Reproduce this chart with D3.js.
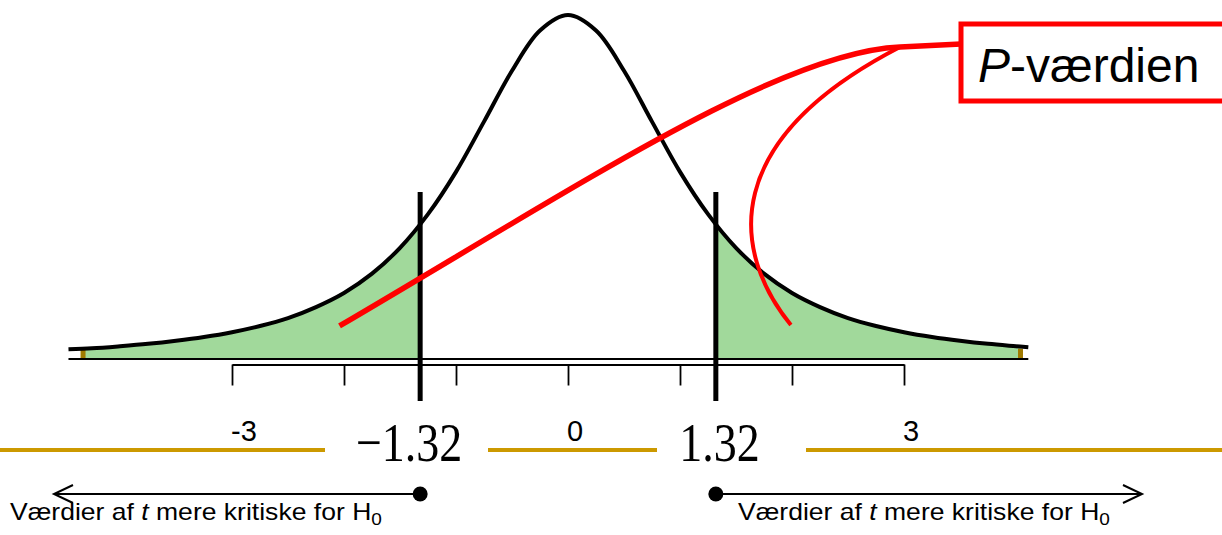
<!DOCTYPE html>
<html>
<head>
<meta charset="utf-8">
<script src="https://cdn.jsdelivr.net/npm/d3@7"></script>
<style>
  html, body { margin: 0; padding: 0; background: #fff; }
  svg { display: block; }
</style>
</head>
<body>
<svg id="chart" width="1222" height="535"></svg>
<script>
// t-values where the density curve is sampled
const tGrid = [-4.46, -4.25, -4, -3.75, -3.5, -3.25, -3, -2.75, -2.5, -2.25, -2, -1.75, -1.5, -1.25, -1, -0.75, -0.5, -0.25,
  0, 0.25, 0.5, 0.75, 1, 1.25, 1.5, 1.75, 2, 2.25, 2.5, 2.75, 3, 3.25, 3.5, 3.75, 4, 4.11];
// curve height (peak = 1)
const density = [0.028, 0.031, 0.037, 0.044, 0.053, 0.064, 0.078, 0.096, 0.119, 0.151, 0.192, 0.248, 0.323, 0.421, 0.544, 0.690, 0.838, 0.955,
  1.000, 0.955, 0.838, 0.690, 0.544, 0.421, 0.323, 0.248, 0.192, 0.151, 0.119, 0.096, 0.078, 0.064, 0.053, 0.044, 0.037, 0.034];

const tickValues = [-3, -2, -1, 0, 1, 2, 3];
const labeledTicks = [-3, 0, 3];
const tickLabels = ["-3", "0", "3"];
const criticalValues = [-1.32, 1.32];
const criticalLabels = ["\u22121.32", "1.32"];
const shadeLimits = [-4.33, 4.04];   // outer ends of the shaded tails
const calloutText = ["P", "-værdien"];
const footText = ["Værdier af ", "t", " mere kritiske for H", "0"];

const svg = d3.select("#chart");
const W = 1222;

const x = d3.scaleLinear().domain([-3, 3]).range([232, 904]);
const y = d3.scaleLinear().domain([0, 1]).range([359, 15]);

const pts = tGrid.map((t, i) => [t, density[i]]);

const SANS = "'Liberation Sans', Arial, Helvetica, sans-serif";
const SERIF = "'Liberation Serif', 'Times New Roman', Times, serif";

// clip regions for the two tails
const defs = svg.append("defs");
defs.append("clipPath").attr("id", "leftTail").append("rect")
  .attr("x", x(shadeLimits[0])).attr("y", 0)
  .attr("width", x(criticalValues[0]) - x(shadeLimits[0])).attr("height", 400);
defs.append("clipPath").attr("id", "rightTail").append("rect")
  .attr("x", x(criticalValues[1])).attr("y", 0)
  .attr("width", x(shadeLimits[1]) - x(criticalValues[1])).attr("height", 400);

const area = d3.area().x(d => x(d[0])).y0(y(0)).y1(d => y(d[1])).curve(d3.curveCatmullRom);
const line = d3.line().x(d => x(d[0])).y(d => y(d[1])).curve(d3.curveCatmullRom);

["leftTail", "rightTail"].forEach(id => {
  svg.append("path").datum(pts)
    .attr("d", area)
    .attr("fill", "#a1d99b")
    .attr("clip-path", `url(#${id})`);
});

// small markers at the outer end of each shaded tail
svg.selectAll("line.tailEnd").data(shadeLimits).enter().append("line")
  .attr("class", "tailEnd")
  .attr("x1", d => x(d)).attr("x2", d => x(d))
  .attr("y1", y(0) - 1).attr("y2", y(0.03))
  .attr("stroke", "#a07a00").attr("stroke-width", 5);

// density curve
svg.append("path").datum(pts)
  .attr("d", line)
  .attr("fill", "none")
  .attr("stroke", "#000")
  .attr("stroke-width", 4)
  .attr("stroke-linejoin", "round");

// baseline under the curve
svg.append("line")
  .attr("x1", x(tGrid[0])).attr("x2", x(tGrid[tGrid.length - 1]))
  .attr("y1", y(0)).attr("y2", y(0))
  .attr("stroke", "#000").attr("stroke-width", 2);

// axis with ticks
const axisG = svg.append("g")
  .attr("transform", "translate(0,364.5)")
  .call(d3.axisBottom(x).tickValues(tickValues).tickSize(21).tickSizeOuter(0).tickFormat(""));
axisG.select(".domain").attr("stroke", "#000").attr("stroke-width", 2);
axisG.selectAll(".tick line").attr("stroke", "#000").attr("stroke-width", 1.8);

// tick labels
svg.selectAll("text.tickLabel").data(labeledTicks).enter().append("text")
  .attr("class", "tickLabel")
  .attr("x", d => x(d) - 1).attr("y", 441)
  .attr("font-family", SANS).attr("font-size", 29)
  .attr("text-anchor", "start")
  .text((d, i) => tickLabels[i]);

// golden rule across the page
svg.append("line")
  .attr("x1", 0).attr("x2", W).attr("y1", 450).attr("y2", 450)
  .attr("stroke", "#cc9900").attr("stroke-width", 4);

// white panels behind the critical value labels
const panels = [[325, 488], [657, 806]];
svg.selectAll("rect.panel").data(panels).enter().append("rect")
  .attr("class", "panel")
  .attr("x", d => d[0]).attr("y", 405)
  .attr("width", d => d[1] - d[0]).attr("height", 66)
  .attr("fill", "#fff");

// critical value labels
const labelCenters = [409, 719.5];
svg.selectAll("text.crit").data(criticalValues).enter().append("text")
  .attr("class", "crit")
  .attr("transform", (d, i) => `translate(${labelCenters[i]},461) scale(1,1.2)`)
  .attr("text-anchor", "middle")
  .attr("font-family", SERIF).attr("font-size", 46)
  .text((d, i) => criticalLabels[i]);

// critical value lines
svg.selectAll("line.crit").data(criticalValues).enter().append("line")
  .attr("class", "crit")
  .attr("x1", d => x(d)).attr("x2", d => x(d))
  .attr("y1", 192).attr("y2", 401)
  .attr("stroke", "#000").attr("stroke-width", 5);

// arrows towards the more critical values
const arrowY = 494;
const arrowTips = [54, 1142];
criticalValues.forEach((cv, i) => {
  const x0 = x(cv);
  const tip = arrowTips[i];
  const dir = tip < x0 ? 1 : -1;
  svg.append("line")
    .attr("x1", x0).attr("x2", tip).attr("y1", arrowY).attr("y2", arrowY)
    .attr("stroke", "#000").attr("stroke-width", 2);
  svg.append("path")
    .attr("d", `M${tip + dir * 19},${arrowY - 9}L${tip},${arrowY}L${tip + dir * 19},${arrowY + 9}`)
    .attr("fill", "none").attr("stroke", "#000").attr("stroke-width", 2);
  svg.append("circle")
    .attr("cx", x0).attr("cy", arrowY).attr("r", 7.5)
    .attr("fill", "#000");
});

// captions under the arrows, widened to their slot
const captionX = [10, 738];
const captionWidth = 372;
captionX.forEach(cx => {
  const g = svg.append("g");
  const t = g.append("text")
    .attr("x", 0).attr("y", 0)
    .attr("font-family", SANS).attr("font-size", 23);
  t.append("tspan").text(footText[0]);
  t.append("tspan").attr("font-style", "italic").text(footText[1]);
  t.append("tspan").text(footText[2]);
  t.append("tspan").attr("font-size", 16.5).attr("dy", 5).text(footText[3]);
  const w = t.node().getBBox().width || captionWidth;
  g.attr("transform", `translate(${cx},520) scale(${captionWidth / w},1)`);
});

// callout leaders
const leftTip = [x(-2.04), y(0.096)];
const rightTip = [x(1.99), y(0.099)];
const hub = [900, 47];
const boxEdge = [961, 44];
svg.append("path")
  .attr("d", `M${leftTip[0]},${leftTip[1]}C580,185 780,52 ${hub[0]},${hub[1]}L${boxEdge[0]},${boxEdge[1]}`)
  .attr("fill", "none").attr("stroke", "#ff0000").attr("stroke-width", 5.5);
svg.append("path")
  .attr("d", `M${hub[0]},${hub[1]}C720,140 730,250 ${rightTip[0]},${rightTip[1]}`)
  .attr("fill", "none").attr("stroke", "#ff0000").attr("stroke-width", 4);

// callout box
svg.append("rect")
  .attr("x", 961).attr("y", 24).attr("width", 300).attr("height", 77)
  .attr("fill", "#fff").attr("stroke", "#ff0000").attr("stroke-width", 5);
const ct = svg.append("text")
  .attr("x", 978).attr("y", 82)
  .attr("font-family", SANS).attr("font-size", 48);
ct.append("tspan").attr("font-style", "italic").text(calloutText[0]);
ct.append("tspan").text(calloutText[1]);
</script>
</body>
</html>
